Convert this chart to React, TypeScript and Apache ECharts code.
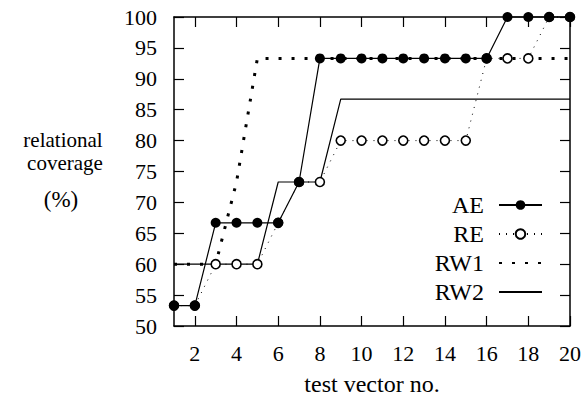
import React, { useEffect, useRef } from "react";
import * as echarts from "echarts";

const testVectors = [1, 2, 3, 4, 5, 6, 7, 8, 9, 10, 11, 12, 13, 14, 15, 16, 17, 18, 19, 20];
const AE = [53.3, 53.3, 66.7, 66.7, 66.7, 66.7, 73.3, 93.3, 93.3, 93.3, 93.3, 93.3, 93.3, 93.3, 93.3, 93.3, 100, 100, 100, 100];
const RE = [53.3, 53.3, 60, 60, 60, 66.7, 73.3, 73.3, 80, 80, 80, 80, 80, 80, 80, 93.3, 93.3, 93.3, 100, 100];
const RW1 = [60, 60, 60, 73.3, 93.3, 93.3, 93.3, 93.3, 93.3, 93.3, 93.3, 93.3, 93.3, 93.3, 93.3, 93.3, 93.3, 93.3, 93.3, 93.3];
const RW2 = [60, 60, 60, 60, 60, 73.3, 73.3, 73.3, 86.7, 86.7, 86.7, 86.7, 86.7, 86.7, 86.7, 86.7, 86.7, 86.7, 86.7, 86.7];
const xTickValues = [2, 4, 6, 8, 10, 12, 14, 16, 18, 20];
const legendOrder = ["AE", "RE", "RW1", "RW2"];

const FONT = "Liberation Serif";

const pairs = (ys: number[]) => testVectors.map((x, i) => [x, ys[i]]);

export default function App() {
  const ref = useRef<HTMLDivElement>(null);
  useEffect(() => {
    if (!ref.current) return;
    const chart = echarts.init(ref.current, undefined, { renderer: "svg" });
    const axisLine = { show: true, lineStyle: { color: "#000", width: 1.5 } };
    const tickStyle = { color: "#000", width: 1.2 };
    const nameStyle = { fontFamily: FONT, fontSize: 21, fill: "#000", textAlign: "center", textVerticalAlign: "middle" };
    chart.setOption({
      animation: false,
      backgroundColor: "#fff",
      grid: { left: 174, right: 14, top: 17, bottom: 71, containLabel: false },
      legend: {
        data: legendOrder,
        orient: "vertical",
        align: "right",
        right: 36,
        top: 188,
        itemWidth: 43,
        itemHeight: 12,
        itemGap: 5,
        textStyle: { fontFamily: FONT, fontSize: 24, color: "#000", lineHeight: 20, padding: [0, 10, 0, 0] },
      },
      graphic: [
        { type: "text", x: 63, y: 139.5, style: { ...nameStyle, text: "relational" } },
        { type: "text", x: 65, y: 163, style: { ...nameStyle, text: "coverage" } },
        { type: "text", x: 61, y: 199, style: { ...nameStyle, fontSize: 23, text: "(%)" } },
      ],
      xAxis: [
        {
          type: "value",
          min: 1,
          max: 20,
          position: "bottom",
          name: "test vector no.",
          nameLocation: "middle",
          nameGap: 46,
          nameTextStyle: { fontFamily: FONT, fontSize: 24, color: "#000" },
          axisLine,
          axisTick: { show: true, inside: true, length: 10, lineStyle: tickStyle, customValues: xTickValues },
          axisLabel: { fontFamily: FONT, fontSize: 22, color: "#000", margin: 16, customValues: xTickValues },
          splitLine: { show: false },
        },
        {
          type: "value",
          min: 1,
          max: 20,
          position: "top",
          axisLine,
          axisTick: { show: true, inside: true, length: 10, lineStyle: tickStyle, customValues: xTickValues },
          axisLabel: { show: false },
          splitLine: { show: false },
        },
      ],
      yAxis: [
        {
          type: "value",
          min: 50,
          max: 100,
          interval: 5,
          position: "left",
          axisLine,
          axisTick: { show: true, inside: true, length: 10, lineStyle: tickStyle },
          axisLabel: { fontFamily: FONT, fontSize: 22, color: "#000", margin: 17 },
          splitLine: { show: false },
        },
        {
          type: "value",
          min: 50,
          max: 100,
          interval: 5,
          position: "right",
          axisLine,
          axisTick: { show: true, inside: true, length: 10, lineStyle: tickStyle },
          axisLabel: { show: false },
          splitLine: { show: false },
        },
      ],
      series: [
        {
          name: "RW2",
          type: "line",
          data: pairs(RW2),
          symbol: "none",
          clip: false,
          lineStyle: { color: "#000", width: 1.2, type: "solid" },
          itemStyle: { color: "rgba(0,0,0,0)" },
        },
        {
          name: "RW1",
          type: "line",
          data: pairs(RW1),
          symbol: "none",
          clip: false,
          lineStyle: { color: "#000", width: 3, type: [3, 10] },
          itemStyle: { color: "rgba(0,0,0,0)" },
        },
        {
          name: "RE",
          type: "line",
          data: pairs(RE),
          symbol: "circle",
          symbolSize: 9,
          clip: false,
          lineStyle: { color: "#000", width: 1, type: [1, 6] },
          itemStyle: { color: "#fff", borderColor: "#000", borderWidth: 1.6 },
        },
        {
          name: "AE",
          type: "line",
          data: pairs(AE),
          symbol: "circle",
          symbolSize: 10,
          clip: false,
          lineStyle: { color: "#000", width: 1.2, type: "solid" },
          itemStyle: { color: "#000" },
        },
      ],
    });
    return () => chart.dispose();
  }, []);
  return (
    <div
      ref={ref}
      style={{ position: "fixed", left: 0, top: 0, width: 584, height: 401, background: "#fff" }}
    />
  );
}
